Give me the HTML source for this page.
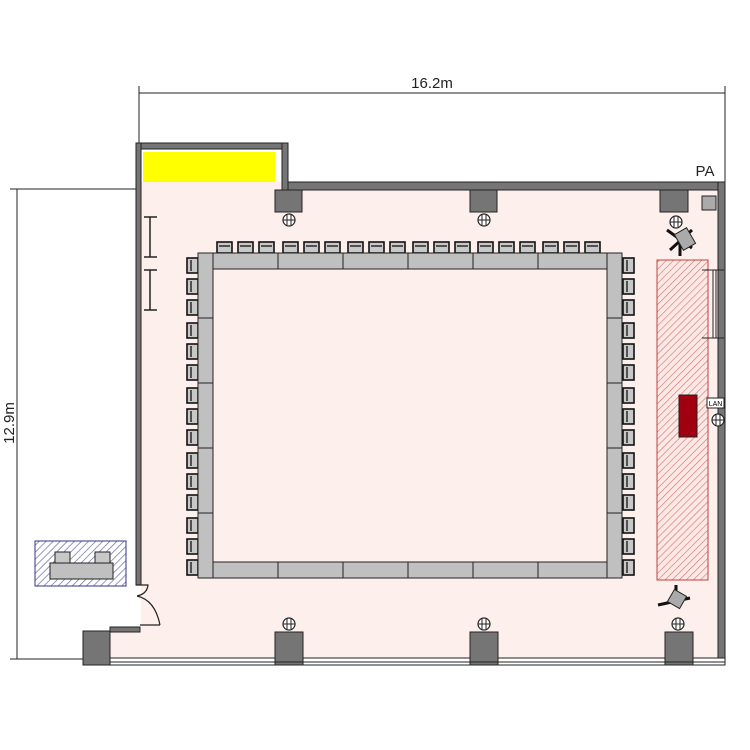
<!DOCTYPE html>
<html><head><style>body{margin:0;background:#fff}svg{display:block}</style></head><body>
<svg width="750" height="750" viewBox="0 0 750 750" xmlns="http://www.w3.org/2000/svg" font-family="Liberation Sans, sans-serif">
<defs>
<pattern id="rh" width="5" height="5" patternUnits="userSpaceOnUse" patternTransform="rotate(45)"><rect width="5" height="5" fill="#fce8e4"/><line x1="0" y1="0" x2="0" y2="5" stroke="#d07070" stroke-width="1.2"/></pattern>
<pattern id="bh" width="5" height="5" patternUnits="userSpaceOnUse" patternTransform="rotate(45)"><rect width="5" height="5" fill="#fff"/><line x1="0" y1="0" x2="0" y2="5" stroke="#6a6aa8" stroke-width="1.4"/></pattern>
<g id="ch"><rect x="0" y="0" width="15" height="11" fill="#c8c8c8" stroke="#111" stroke-width="1.6"/><line x1="2" y1="4" x2="13" y2="4" stroke="#111" stroke-width="1.3"/></g>
<g id="cv"><rect x="0" y="0" width="11" height="15" fill="#c8c8c8" stroke="#111" stroke-width="1.6"/><line x1="4" y1="2" x2="4" y2="13" stroke="#111" stroke-width="1.3"/></g>
<g id="outlet"><circle cx="0" cy="0" r="6" fill="#fff" stroke="#222" stroke-width="1.2"/><line x1="-2" y1="-5" x2="-2" y2="5" stroke="#222"/><line x1="2" y1="-5" x2="2" y2="5" stroke="#222"/><line x1="-6" y1="0" x2="6" y2="0" stroke="#222"/></g>
</defs>
<!-- floor -->
<rect x="141" y="190" width="577" height="468" fill="#fdf0ec"/>
<rect x="141" y="182" width="147" height="8" fill="#fdf0ec"/>
<rect x="110" y="632" width="31" height="26" fill="#fdf0ec"/>
<!-- dimension lines -->
<line x1="139" y1="86" x2="139" y2="190" stroke="#222"/>
<line x1="725" y1="86" x2="725" y2="190" stroke="#222"/>
<line x1="139" y1="93" x2="725" y2="93" stroke="#222"/>
<text x="432" y="88" font-size="15" text-anchor="middle" fill="#222">16.2m</text>
<line x1="10" y1="189" x2="141" y2="189" stroke="#222"/>
<line x1="10" y1="659" x2="280" y2="659" stroke="#222"/>
<line x1="17" y1="189" x2="17" y2="659" stroke="#222"/>
<text x="0" y="0" font-size="15" text-anchor="middle" fill="#222" transform="translate(14,423) rotate(-90)">12.9m</text>
<!-- walls -->
<g fill="#757575" stroke="#222" stroke-width="1">
<rect x="136" y="143" width="152" height="6"/>
<rect x="282" y="143" width="6" height="47"/>
<rect x="288" y="182" width="437" height="8"/>
<rect x="718" y="182" width="7" height="483"/>
<rect x="136" y="143" width="5" height="442"/>
<rect x="83" y="631" width="27" height="34"/>
<rect x="110" y="627" width="30" height="5"/>
<rect x="110" y="658" width="615" height="7" fill="#fff"/>
<rect x="275" y="190" width="27" height="22"/>
<rect x="470" y="190" width="27" height="22"/>
<rect x="660" y="190" width="28" height="22"/>
<rect x="275" y="632" width="28" height="33"/>
<rect x="470" y="632" width="28" height="33"/>
<rect x="665" y="632" width="28" height="33"/>
<rect x="702" y="196" width="14" height="14" fill="#aaa"/>
</g>
<line x1="110" y1="662" x2="725" y2="662" stroke="#222"/>
<!-- door -->
<path d="M136 585 H148 Q147 594 137 596" fill="none" stroke="#222" stroke-width="1.2"/>
<path d="M137 596 Q155 600 160 625" fill="none" stroke="#222" stroke-width="1.2"/>
<line x1="140" y1="625" x2="160" y2="625" stroke="#222" stroke-width="1.2"/>
<!-- yellow -->
<rect x="143" y="152" width="132" height="30" fill="#ffff00"/>
<text x="705" y="176" font-size="15" fill="#222" text-anchor="middle">PA</text>
<!-- left wall marks -->
<g stroke="#222" stroke-width="1.5"><line x1="150" y1="217" x2="150" y2="257"/><line x1="144" y1="217" x2="157" y2="217"/><line x1="144" y1="257" x2="157" y2="257"/>
<line x1="150" y1="270" x2="150" y2="310"/><line x1="144" y1="270" x2="157" y2="270"/><line x1="144" y1="310" x2="157" y2="310"/></g>
<!-- outlets -->
<use href="#outlet" x="289" y="220"/><use href="#outlet" x="484" y="220"/><use href="#outlet" x="676" y="222"/>
<use href="#outlet" x="289" y="624"/><use href="#outlet" x="484" y="624"/><use href="#outlet" x="678" y="624"/>
<use href="#outlet" x="718" y="420"/>
<!-- cameras -->
<g stroke="#111" stroke-width="3"><line x1="667" y1="230" x2="692" y2="248"/><line x1="680" y1="240" x2="680" y2="256"/><line x1="692" y1="230" x2="670" y2="250"/></g>
<rect x="678" y="230" width="14" height="18" fill="#aaa" stroke="#222" transform="rotate(-30 685 239)"/>
<g stroke="#111" stroke-width="3"><line x1="658" y1="605" x2="690" y2="598"/><line x1="676" y1="585" x2="676" y2="600"/></g>
<rect x="670" y="592" width="14" height="14" fill="#aaa" stroke="#222" transform="rotate(30 677 599)"/>
<!-- stage -->
<rect x="657" y="260" width="51" height="320" fill="url(#rh)" stroke="#c04040"/>
<rect x="679" y="395" width="18" height="42" fill="#a00010" stroke="#222"/>
<g stroke="#222"><line x1="702" y1="270" x2="724" y2="270"/><line x1="702" y1="338" x2="724" y2="338"/><line x1="713" y1="270" x2="713" y2="338"/><line x1="716" y1="270" x2="716" y2="338"/></g>
<rect x="707" y="398" width="17" height="10" fill="#fff" stroke="#222"/>
<text x="715.5" y="406" font-size="7" text-anchor="middle">LAN</text>
<!-- left stand -->
<rect x="35" y="541" width="91" height="45" fill="url(#bh)" stroke="#33338a"/>
<rect x="50" y="563" width="63" height="16" fill="#c0c0c0" stroke="#222"/>
<rect x="55" y="552" width="15" height="11" fill="#c8c8c8" stroke="#222"/>
<rect x="95" y="552" width="15" height="11" fill="#c8c8c8" stroke="#222"/>
<!-- chairs -->
<g id="tops">
<use href="#ch" x="217" y="242"/><use href="#ch" x="238" y="242"/><use href="#ch" x="259" y="242"/>
<use href="#ch" x="283" y="242"/><use href="#ch" x="304" y="242"/><use href="#ch" x="325" y="242"/>
<use href="#ch" x="348" y="242"/><use href="#ch" x="369" y="242"/><use href="#ch" x="390" y="242"/>
<use href="#ch" x="413" y="242"/><use href="#ch" x="434" y="242"/><use href="#ch" x="455" y="242"/>
<use href="#ch" x="478" y="242"/><use href="#ch" x="499" y="242"/><use href="#ch" x="520" y="242"/>
<use href="#ch" x="543" y="242"/><use href="#ch" x="564" y="242"/><use href="#ch" x="585" y="242"/>
</g>
<use href="#tops" y="322"/>
<g id="lefts">
<use href="#cv" x="187" y="258"/><use href="#cv" x="187" y="279"/><use href="#cv" x="187" y="300"/>
<use href="#cv" x="187" y="323"/><use href="#cv" x="187" y="344"/><use href="#cv" x="187" y="365"/>
<use href="#cv" x="187" y="388"/><use href="#cv" x="187" y="409"/><use href="#cv" x="187" y="430"/>
<use href="#cv" x="187" y="453"/><use href="#cv" x="187" y="474"/><use href="#cv" x="187" y="495"/>
<use href="#cv" x="187" y="518"/><use href="#cv" x="187" y="539"/><use href="#cv" x="187" y="560"/>
</g>
<use href="#lefts" x="436"/>
<!-- tables -->
<g fill="#c0c0c0" stroke="#222" stroke-width="1">
<rect x="213" y="253" width="65" height="16"/><rect x="278" y="253" width="65" height="16"/><rect x="343" y="253" width="65" height="16"/><rect x="408" y="253" width="65" height="16"/><rect x="473" y="253" width="65" height="16"/><rect x="538" y="253" width="69" height="16"/>
<rect x="213" y="562" width="65" height="16"/><rect x="278" y="562" width="65" height="16"/><rect x="343" y="562" width="65" height="16"/><rect x="408" y="562" width="65" height="16"/><rect x="473" y="562" width="65" height="16"/><rect x="538" y="562" width="69" height="16"/>
<rect x="198" y="253" width="15" height="65"/><rect x="198" y="318" width="15" height="65"/><rect x="198" y="383" width="15" height="65"/><rect x="198" y="448" width="15" height="65"/><rect x="198" y="513" width="15" height="65"/>
<rect x="607" y="253" width="15" height="65"/><rect x="607" y="318" width="15" height="65"/><rect x="607" y="383" width="15" height="65"/><rect x="607" y="448" width="15" height="65"/><rect x="607" y="513" width="15" height="65"/>
</g>
</svg>
</body></html>
